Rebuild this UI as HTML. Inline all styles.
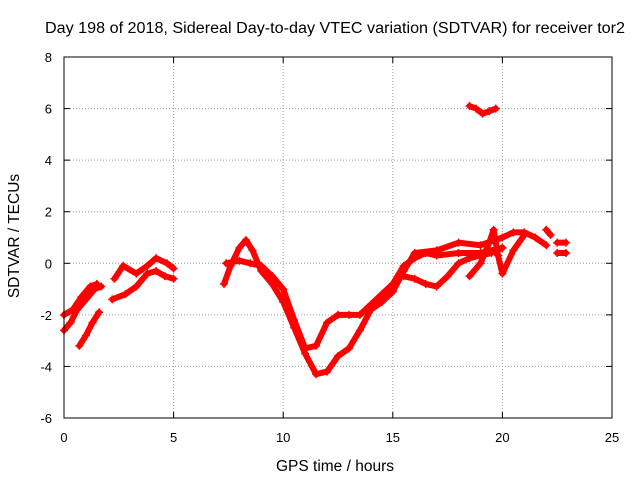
<!DOCTYPE html>
<html><head><meta charset="utf-8"><style>
body{margin:0;background:#fff}
svg text{font-family:"Liberation Sans",sans-serif;font-size:13px;fill:#000}
</style></head><body>
<svg id="c" width="640" height="480">
<text x="335" y="33" text-anchor="middle" textLength="580" lengthAdjust="spacingAndGlyphs" style="font-size:15.5px">Day 198 of 2018, Sidereal Day-to-day VTEC variation (SDTVAR) for receiver tor2</text>
<text x="335" y="471" text-anchor="middle" style="font-size:15.5px">GPS time / hours</text>
<text x="19" y="236" text-anchor="middle" transform="rotate(-90 19 236)" style="font-size:15.5px">SDTVAR / TECUs</text>
<g id="grid"></g><g id="marks"></g>
<rect x="64" y="57" width="548" height="361" fill="none" stroke="#000"/>
</svg>
<script>
const xTicks=[0,5,10,15,20,25];
const yTicks=[-6,-4,-2,0,2,4,6,8];
const track1=[[0,-2.6],[0.3,-2.3],[0.6,-1.8],[1,-1.4],[1.4,-1.0],[1.7,-0.9]];
const track2=[[0,-2.0],[0.4,-1.8],[0.8,-1.3],[1.2,-0.9],[1.5,-0.8]];
const track3=[[0.7,-3.2],[1.0,-2.8],[1.3,-2.3],[1.6,-1.9]];
const track4=[[2.2,-1.4],[2.8,-1.2],[3.3,-0.9],[3.8,-0.4],[4.2,-0.3],[4.6,-0.5],[5,-0.6]];
const track5=[[2.3,-0.6],[2.7,-0.1],[3.3,-0.4],[3.8,-0.1],[4.2,0.2],[4.7,0],[5,-0.2]];
const track6=[[7.3,-0.8],[7.6,-0.1],[8,0.6],[8.3,0.9],[8.6,0.5],[9,-0.3],[9.5,-0.8],[10,-1.5],[10.5,-2.5],[11,-3.5],[11.5,-4.3],[12,-4.2],[12.5,-3.6],[13,-3.3],[13.5,-2.6],[14,-1.8],[14.5,-1.5],[15,-1.1],[15.5,-0.3],[16,0.4],[17,0.5],[18,0.8],[19,0.7],[20,1.0],[20.5,1.2],[21,1.2],[21.5,1.0],[22,0.7]];
const track7=[[7.4,0],[8,0.1],[8.5,0],[9,-0.1],[9.5,-0.5],[10,-1.0],[10.5,-2.2],[11,-3.3],[11.5,-3.2],[12,-2.3],[12.5,-2.0],[13,-2.0],[13.5,-2.0],[14,-1.6],[14.5,-1.2],[15,-0.8],[15.5,-0.1],[16,0.2],[16.5,0.4],[17,0.3],[18,0.4],[19,0.4],[20,0.6]];
const track8=[[15.5,-0.5],[16,-0.6],[16.5,-0.8],[17,-0.9],[17.5,-0.5],[18,0],[18.5,0.2],[19,0.3],[19.5,0.4],[20,0.6]];
const track9=[[18.5,-0.5],[19,0],[19.4,0.8],[19.6,1.3],[19.8,0.3],[20,-0.4],[20.5,0.5],[21,1.1]];
const track10=[[22,1.3],[22.2,1.1]];
const track11=[[22.5,0.4],[22.9,0.4]];
const track12=[[22.5,0.8],[22.9,0.8]];
const track13=[[18.5,6.1],[18.8,6.0],[19.1,5.8],[19.4,5.9],[19.7,6.0]];
const tracks=[track1,track2,track3,track4,track5,track6,track7,track8,track9,track10,track11,track12,track13];
const X=v=>64+v*548/25, Y=v=>418-(v+6)*361/14;
const NS='http://www.w3.org/2000/svg';
const g=document.getElementById('grid'), m=document.getElementById('marks');
function el(t,a,p){const e=document.createElementNS(NS,t);for(const k in a)e.setAttribute(k,a[k]);p.appendChild(e);return e;}
xTicks.forEach(t=>{
  const l=el('line',{x1:X(t),x2:X(t),y1:57,y2:418,stroke:t>0&&t<25?'#a0a0a0':'none','stroke-dasharray':'1,2'},g);
  
  
  el('line',{x1:X(t),x2:X(t),y1:418,y2:412,stroke:'#000'},g);
  el('line',{x1:X(t),x2:X(t),y1:57,y2:63,stroke:'#000'},g);
  const tx=el('text',{x:X(t),y:442,'text-anchor':'middle'},g);tx.textContent=t;
  
  
});
yTicks.forEach(t=>{
  const l=el('line',{x1:64,x2:612,y1:Y(t),y2:Y(t),stroke:t>-6&&t<8?'#a0a0a0':'none','stroke-dasharray':'1,2'},g);
  
  
  el('line',{x1:64,x2:70,y1:Y(t),y2:Y(t),stroke:'#000'},g);
  el('line',{x1:612,x2:606,y1:Y(t),y2:Y(t),stroke:'#000'},g);
  const tx=el('text',{x:52,y:Y(t)+5,'text-anchor':'end'},g);tx.textContent=t;
  
  
});
tracks.forEach(tr=>{
  const p=el('polyline',{points:tr.map(d=>X(d[0])+','+Y(d[1])).join(' '),fill:'none',stroke:'#f00','stroke-width':6,'stroke-linejoin':'round','stroke-linecap':'round'},m);
  
  
  tr.forEach(d=>{
    const x=X(d[0]),y=Y(d[1]);
    const s=el('path',{d:`M${x-4},${y}H${x+4}M${x},${y-4}V${y+4}`,stroke:'#f00','stroke-width':1.5},m);
    
    
  });
});
</script>
</body></html>
